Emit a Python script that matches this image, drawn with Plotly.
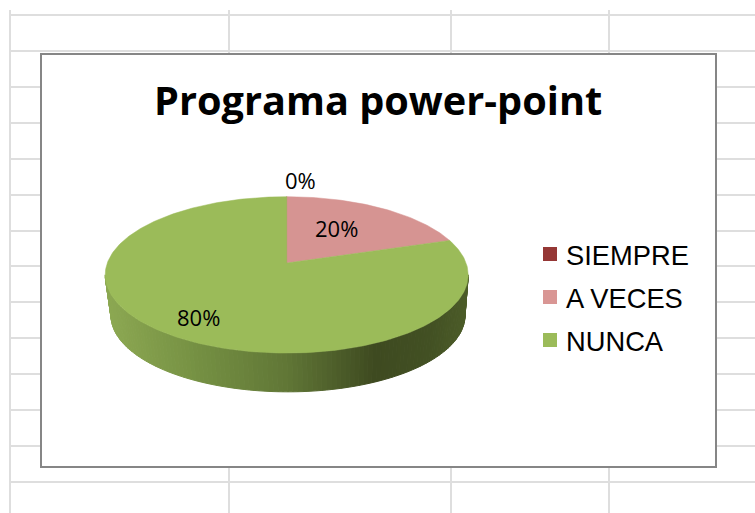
import numpy as np
import plotly.graph_objects as go

# Data
CATEGORIES = ["SIEMPRE", "A VECES", "NUNCA"]
VALUES = [0, 20, 80]
TITLE = "Programa power-point"

# Styles
COLORS = ["#953735", "#D69492", "#9BBB59"]
LEGEND_COLORS = ["#953735", "#D99694", "#9BBB59"]
GRID_X = [10, 229, 451, 609]
GRID_Y = [15, 51, 87, 123, 159, 195, 231, 266, 302, 338, 374, 410, 446, 482]
GRID_COLOR = "#DEDEDE"
FRAME = (41, 54, 716, 467)
LABEL_POS = [(300, 180), (336, 228), (198, 317)]
LEGEND_Y = [254, 297, 340]
WALL_STOPS = [(105, (140, 168, 82)), (200, (116, 143, 66)), (287, (96, 118, 54)),
              (375, (62, 74, 32)), (430, (66, 80, 35)), (468, (76, 92, 40))]

# Projection of the pie disc
CX, CY, RX, RY, K = 286.7, 263.0, 179.4, 76.4, 0.152
WALL_SCALE, WALL_CY, WALL_CX = 0.975, 304.0, 288.0


def rim(theta):
    """Angle measured clockwise from the top of the pie -> pixel coordinates."""
    u, v = np.sin(theta), np.cos(theta)
    w = 1 + K * v
    return CX + RX * u / w, CY - RY * v / w


def base(theta):
    x, y = rim(theta)
    return WALL_CX + WALL_SCALE * (x - CX), WALL_CY + WALL_SCALE * (y - CY)


def wall_color(x):
    xs = [s[0] for s in WALL_STOPS]
    rgb = [np.interp(x, xs, [s[1][i] for s in WALL_STOPS]) for i in range(3)]
    return "rgb(%d,%d,%d)" % tuple(int(round(c)) for c in rgb)


fig = go.Figure()

# Side wall of the pie, as narrow strips
t_right = np.pi - np.arcsin(np.sqrt(1 - K * K))
t_left = 2 * np.pi - t_right
edges = np.linspace(t_right, t_left, 121)
for a, b in zip(edges[:-1], edges[1:]):
    arc = np.linspace(a, b, 4)
    xt, yt = rim(arc)
    xb, yb = base(arc[::-1])
    col = wall_color(float(rim((a + b) / 2)[0]))
    fig.add_trace(go.Scatter(
        x=np.r_[xt, xb, xt[0]], y=np.r_[yt, yb, yt[0]],
        mode="lines", fill="toself", fillcolor=col,
        line=dict(color=col, width=1), hoverinfo="skip", showlegend=False))

# Top of the pie: one slice per value
fractions = np.cumsum(VALUES) / np.sum(VALUES)
start = 0.0
for name, frac, col in zip(CATEGORIES, fractions, COLORS):
    end = frac * 2 * np.pi
    arc = np.linspace(start, end, max(int((end - start) * 60), 2))
    x_arc, y_arc = rim(arc)
    fig.add_trace(go.Scatter(
        x=np.r_[CX, x_arc, CX], y=np.r_[CY, y_arc, CY],
        mode="lines", fill="toself", fillcolor=col,
        line=dict(color=col, width=0.5), name=name, showlegend=False,
        hoverinfo="name"))
    start = end

# Legend swatches
for name, col, ly in zip(CATEGORIES, LEGEND_COLORS, LEGEND_Y):
    fig.add_trace(go.Scatter(
        x=[550], y=[ly], mode="markers", name=name,
        marker=dict(symbol="square", size=14, color=col, line=dict(width=0)),
        showlegend=False))

shapes = []
for gx in GRID_X:
    shapes.append(dict(type="line", x0=gx, x1=gx, y0=10, y1=513, layer="below",
                       line=dict(color=GRID_COLOR, width=2)))
for gy in GRID_Y:
    shapes.append(dict(type="line", x0=10, x1=755, y0=gy, y1=gy, layer="below",
                       line=dict(color=GRID_COLOR, width=2)))
shapes.append(dict(type="rect", x0=FRAME[0], y0=FRAME[1], x1=FRAME[2], y1=FRAME[3],
                   layer="below", fillcolor="white",
                   line=dict(color="#868686", width=2)))

ann = [dict(x=377.5, y=100, text="<b>%s</b>" % TITLE, showarrow=False,
            xanchor="center", yanchor="middle",
            font=dict(family="Open Sans", size=39.7, color="#000000"))]
for v, (lx, ly) in zip(VALUES, LABEL_POS):
    ann.append(dict(x=lx, y=ly, text="%d%%" % v, showarrow=False,
                    xanchor="center", yanchor="middle",
                    font=dict(family="Open Sans", size=22, color="#000000")))
for name, ly in zip(CATEGORIES, LEGEND_Y):
    ann.append(dict(x=564, y=ly + 1, text=name, showarrow=False,
                    xanchor="left", yanchor="middle",
                    font=dict(family="Liberation Sans", size=27.3, color="#000000")))

fig.update_layout(
    width=755, height=513, autosize=False,
    margin=dict(l=0, r=0, t=0, b=0),
    paper_bgcolor="white", plot_bgcolor="white",
    showlegend=False, shapes=shapes, annotations=ann,
    xaxis=dict(range=[0, 755], visible=False, fixedrange=True),
    yaxis=dict(range=[513, 0], visible=False, fixedrange=True),
)

fig.write_html("out.html", config=dict(displayModeBar=False),
               post_script="document.body.style.margin='0';")
